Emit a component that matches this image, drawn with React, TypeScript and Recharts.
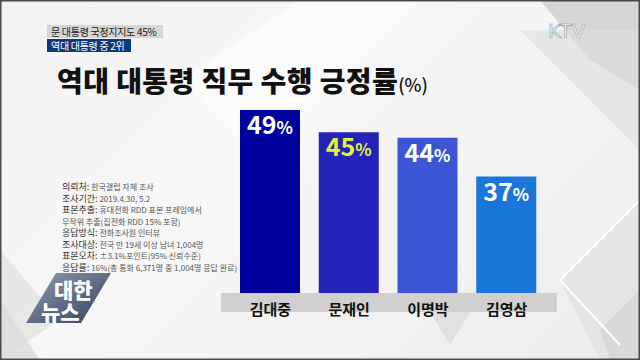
import React from "react";
import { BarChart, Bar, XAxis, YAxis, Cell, LabelList } from "recharts";

const presidents = ["김대중", "문재인", "이명박", "김영삼"];
const approval = [49, 45, 44, 37];
const barColors = ["#00009c", "#2323b9", "#3d56d6", "#1a76da"];
const labelColors = ["#ffffff", "#e6f03a", "#ffffff", "#ffffff"];

const noteLabels = ["의뢰처:", "조사기간:", "표본추출:", "", "응답방식:", "조사대상:", "표본오차:", "응답률:"];
const noteValues = [
  "한국갤럽 자체 조사",
  "2019.4.30, 5.2",
  "휴대전화 RDD 표본 프레임에서",
  "무작위 추출(집전화 RDD 15% 포함)",
  "전화조사원 인터뷰",
  "전국 만 19세 이상 남녀 1,004명",
  "±3.1%포인트(95% 신뢰수준)",
  "16%(총 통화 6,371명 중 1,004명 응답 완료)",
];

const data = presidents.map((name, i) => ({ name, value: approval[i] }));

const FONT = "'Noto Sans CJK KR', 'Noto Sans', sans-serif";

const ValueLabel = (props: any) => {
  const { x, y, width, value, index } = props;
  return (
    <text
      x={x + width / 2}
      y={y + 24}
      textAnchor="middle"
      fill={labelColors[index]}
      fontFamily={FONT}
      fontWeight={700}
      fontSize={25}
    >
      {value}
      <tspan fontSize={17}>%</tspan>
    </text>
  );
};

const CatTick = (props: any) => {
  const { x, y, payload } = props;
  return (
    <text x={x} y={y + 14} textAnchor="middle" fill="#111" fontFamily={FONT} fontWeight={700} fontSize={15}>
      {payload.value}
    </text>
  );
};

export default function App() {
  return (
    <div
      style={{
        position: "absolute",
        left: 0,
        top: 0,
        width: 640,
        height: 360,
        overflow: "hidden",
        background: "linear-gradient(135deg, #f2f2f2 0%, #f7f7f7 40%, #ececec 100%)",
        fontFamily: FONT,
      }}
    >
      <svg width={640} height={360} style={{ position: "absolute", left: 0, top: 0 }}>
        <polygon points="300,0 420,0 260,160 180,80" fill="#ffffff" opacity={0.5} />
        <polygon points="540,0 640,0 640,90 590,60" fill="#c9c9c9" opacity={0.7} />
        <polygon points="520,30 640,30 640,150" fill="#dedede" opacity={0.6} />
        <polygon points="560,280 640,200 640,360 600,360" fill="#e2e2e2" opacity={0.8} />
        <polygon points="600,330 640,290 640,360 610,360" fill="#d5d5d5" opacity={0.8} />
        <polygon points="0,250 60,320 0,360" fill="#e3e3e3" opacity={0.8} />
        <polygon points="0,300 40,360 0,360" fill="#dcdcdc" opacity={0.8} />
        <polygon points="430,312 470,312 450,345" fill="#e0e0e0" />
        <line x1={560} y1={280} x2={640} y2={200} stroke="#ffffff" strokeWidth={2} />
        <line x1={560} y1={280} x2={620} y2={345} stroke="#ffffff" strokeWidth={2} />
        <defs>
          <linearGradient id="logoG" x1="0" y1="0" x2="1" y2="1">
            <stop offset="0%" stopColor="#8f9db3" />
            <stop offset="100%" stopColor="#343f58" />
          </linearGradient>
        </defs>
        <polygon points="56,273 111,273 81,323 26,323" fill="url(#logoG)" />
        <text fill="#ffffff" fontFamily={FONT} fontWeight={900} fontSize={21}>
          <tspan x={54} y={298}>대한</tspan>
          <tspan x={41} y={320}>뉴스</tspan>
        </text>
        <text fontFamily={FONT} fontSize={8} fill="#555">
          {noteValues.map((v, i) => (
            <tspan key={i} x={62} y={190 + i * 11.5}>
              <tspan fill="#333" fontSize={9}>{noteLabels[i]}</tspan>
              {noteLabels[i] ? " " : ""}
              {v}
            </tspan>
          ))}
        </text>
        <text x={548} y={38} fill="#f4f4f4" stroke="#9a9a9a" strokeWidth={0.6} fontFamily="'DejaVu Sans', sans-serif" fontSize={20}>KTV</text>
        <rect x={0.5} y={0.5} width={639} height={359} fill="none" stroke="#4a4a4a" strokeWidth={2} />
      </svg>

      <div style={{ position: "absolute", left: 47, top: 25, width: 116, height: 13, background: "#d6d6d6", color: "#222", fontSize: 10, lineHeight: "13px", paddingLeft: 4, boxSizing: "border-box", whiteSpace: "nowrap", letterSpacing: -0.3 }}>
        문 대통령 국정지지도 45%
      </div>
      <div style={{ position: "absolute", left: 47, top: 39, width: 84, height: 13, background: "#0b3a7c", color: "#fff", fontSize: 10, lineHeight: "13px", paddingLeft: 4, boxSizing: "border-box", whiteSpace: "nowrap", letterSpacing: -0.3 }}>
        역대 대통령 중 2위
      </div>

      <div style={{ position: "absolute", left: 57, top: 61, color: "#111", fontSize: 28, fontWeight: 900, whiteSpace: "nowrap", lineHeight: "38px", letterSpacing: 0.4 }}>
        역대 대통령 직무 수행 긍정률<span style={{ fontSize: 18, fontWeight: 500, letterSpacing: 0 }}>(%)</span>
      </div>

      <div style={{ position: "absolute", left: 221, top: 293, width: 336, height: 19, background: "#d0d0d0" }} />

      <div style={{ position: "absolute", left: 0, top: 0 }}>
        <BarChart width={640} height={360} data={data} margin={{ top: 104.5, right: 94, bottom: 47, left: 231 }} barCategoryGap={19}>
          <YAxis hide domain={[16, 50]} allowDataOverflow />
          <XAxis dataKey="name" axisLine={false} tickLine={false} height={20} tick={<CatTick />} interval={0} />
          <Bar dataKey="value" isAnimationActive={false} barSize={60}>
            {data.map((d, i) => (
              <Cell key={d.name} fill={barColors[i]} />
            ))}
            <LabelList dataKey="value" content={<ValueLabel />} />
          </Bar>
        </BarChart>
      </div>
    </div>
  );
}
